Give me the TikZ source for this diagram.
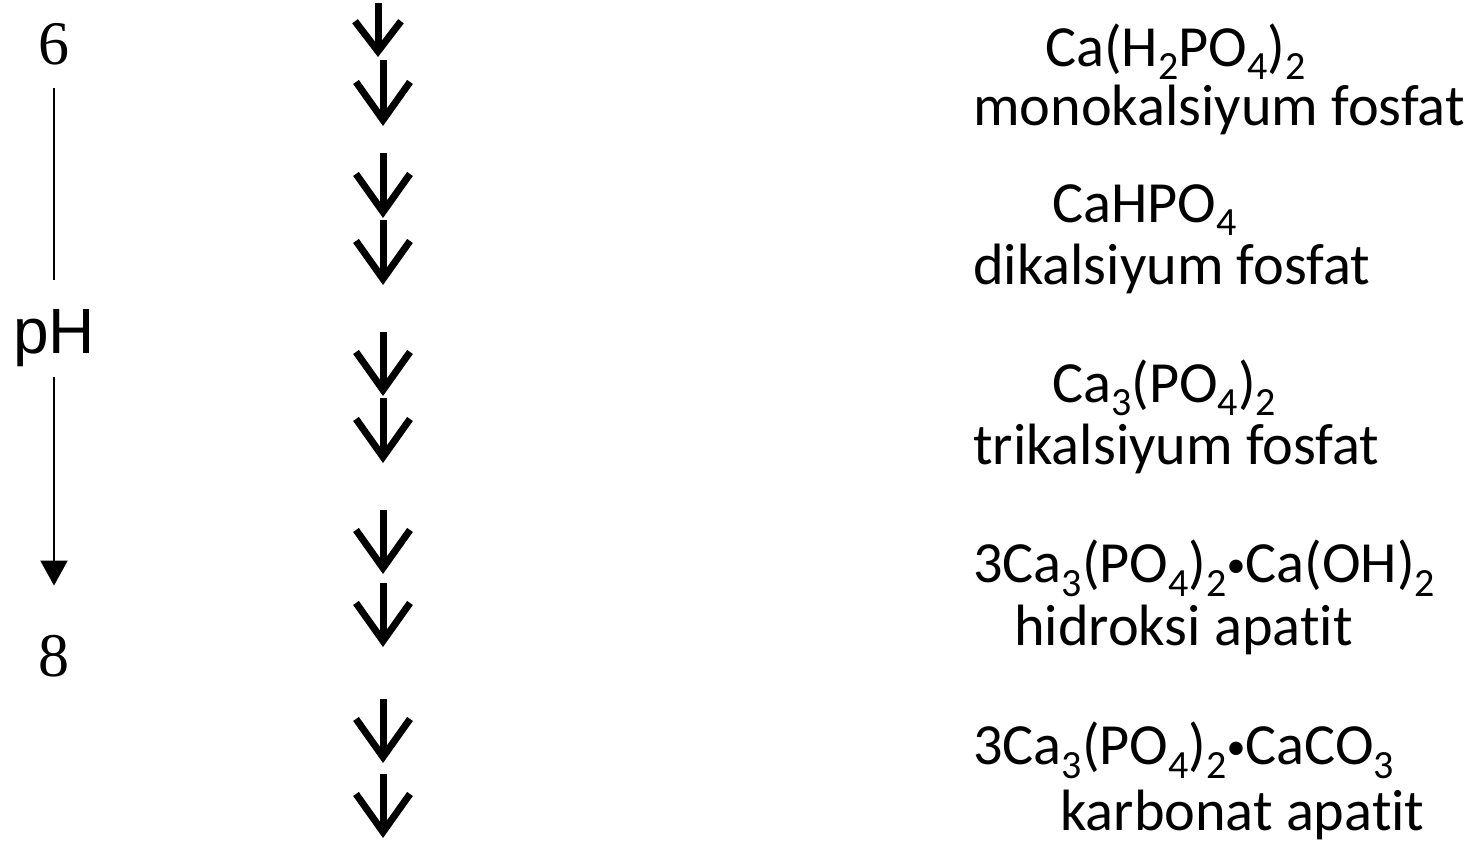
\documentclass[tikz,border=0pt]{standalone}
\usepackage{fontspec}
\setmainfont{Liberation Serif}
\newfontfamily\calibri[Ligatures={NoCommon}]{Carlito}
\newfontfamily\arial{Liberation Sans}
\usetikzlibrary{arrows.meta}
\newcommand{\sub}[1]{\raisebox{-0.24em}{\fontsize{40}{40}\selectfont #1}}
\newcommand{\dotsep}{\raisebox{5pt}{\fontsize{38}{38}\selectfont •}}

\begin{document}
\begin{tikzpicture}[
  x=1pt, y=-1pt,
  chem/.style={anchor=base west, inner sep=0pt, font=\calibri\fontsize{58.3}{60}\selectfont},
  num/.style={anchor=base, inner sep=0pt, font=\fontsize{62}{64}\selectfont},
  axis/.style={line width=2pt, black},
  dnarr/.style={line width=7pt, -{Straight Barb[length=38pt,width=54pt]}},
]
  \useasboundingbox (0,0) rectangle (1472,849);

  % pH scale on the left
  \node[num] (ph6) at (54,64) {6};
  \node[anchor=base, inner sep=0pt, font=\arial\fontsize{64}{66}\selectfont] (phlbl) at (54,353) {pH};
  \node[num] (ph8) at (54,676) {8};
  \draw[axis, shorten <=23pt, shorten >=29pt] (ph6.south) -- (phlbl.north);
  \draw[axis, -{Triangle[length=25pt,width=27pt]}, shorten <=11pt, shorten >=49pt] (phlbl.south) -- (ph8.north);

  % column of down arrows
  \draw[dnarr, -{Straight Barb[length=30pt,width=46pt]}] (378,3) -- (378,57);
  \foreach \a/\b in {60/126, 153/218, 220/285, 332/396, 398/463, 510/574, 583/647, 699/763, 774/838}
    \draw[dnarr] (383,\a) -- (383,\b);

  % phosphates
  \node[chem] (mcp) at (1045,66) {Ca(H\sub{2}PO\sub{4})\sub{2}};
  \node[chem] (mcpname) at (973,125) {monokalsiyum fosfat};
  \node[chem] (dcp) at (1052,222) {CaHPO\sub{4}};
  \node[chem] (dcpname) at (973,284) {dikalsiyum fosfat};
  \node[chem] (tcp) at (1052,402) {Ca\sub{3}(PO\sub{4})\sub{2}};
  \node[chem] (tcpname) at (973,464) {trikalsiyum fosfat};
  \node[chem] (hap) at (973,582) {3Ca\sub{3}(PO\sub{4})\sub{2}\dotsep Ca(OH)\sub{2}};
  \node[chem] (hapname) at (1014,645) {hidroksi apatit};
  \node[chem] (cap) at (973,764) {3Ca\sub{3}(PO\sub{4})\sub{2}\dotsep CaCO\sub{3}};
  \node[chem] (capname) at (1060,830) {karbonat apatit};

\end{tikzpicture}
\end{document}
